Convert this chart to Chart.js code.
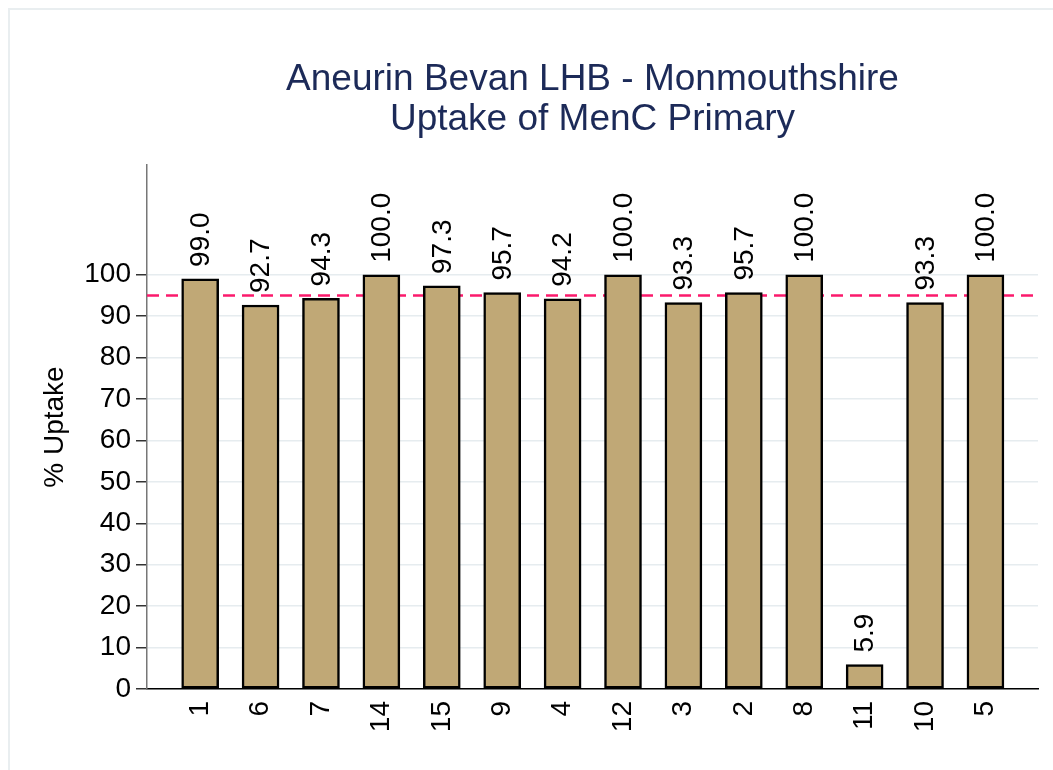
<!DOCTYPE html>
<html>
<head>
<meta charset="utf-8">
<script src="https://cdn.jsdelivr.net/npm/chart.js@4.4.1/dist/chart.umd.min.js"></script>
<style>
  html, body { margin: 0; padding: 0; background: #fff; overflow: hidden; }
  #wrap { position: relative; width: 1053px; height: 770px; }
  #frame { position: absolute; left: 8px; top: 8px; width: 1100px; height: 800px; border: 2px solid #e9eef0; }
  canvas { position: absolute; left: 0; top: 0; }
</style>
</head>
<body>
<div id="wrap">
  <div id="frame"></div>
  <canvas id="grafico" width="1053" height="770"></canvas>
</div>
<script>
// ---------------- DATA ----------------
const titleLines = ["Aneurin Bevan LHB - Monmouthshire", "Uptake of MenC Primary"];
const practices = ["1", "6", "7", "14", "15", "9", "4", "12", "3", "2", "8", "11", "10", "5"];
const uptake = [99.0, 92.7, 94.3, 100.0, 97.3, 95.7, 94.2, 100.0, 93.3, 95.7, 100.0, 5.9, 93.3, 100.0];
const yTicks = [0, 10, 20, 30, 40, 50, 60, 70, 80, 90, 100];
const target = 95;

const FONT = "'Liberation Sans', Arial, sans-serif";

// ---------------- PLUGINS ----------------
// dashed target line (behind the bars)
const targetLine = {
  id: "targetLine",
  beforeDatasetsDraw(chart) {
    const { ctx, chartArea, scales } = chart;
    const y = scales.y.getPixelForValue(target);
    ctx.save();
    ctx.strokeStyle = "#fb1a6c";
    ctx.lineWidth = 2.5;
    ctx.setLineDash([12, 7]);
    ctx.beginPath();
    ctx.moveTo(chartArea.left, y);
    ctx.lineTo(chartArea.right, y);
    ctx.stroke();
    ctx.restore();
  }
};

// vertical value labels above each bar
const valueLabels = {
  id: "valueLabels",
  afterDatasetsDraw(chart) {
    const { ctx } = chart;
    const meta = chart.getDatasetMeta(0);
    ctx.save();
    ctx.fillStyle = "#000";
    ctx.font = "28px " + FONT;
    ctx.textAlign = "left";
    ctx.textBaseline = "middle";
    meta.data.forEach((bar, i) => {
      ctx.save();
      ctx.translate(bar.x + 1, bar.y - 12);
      ctx.rotate(-Math.PI / 2);
      ctx.fillText(uptake[i].toFixed(1), 0, 0);
      ctx.restore();
    });
    ctx.restore();
  }
};

// two-line title centred over the plot area
const plotTitle = {
  id: "plotTitle",
  afterDraw(chart) {
    const { ctx, chartArea } = chart;
    const cx = (chartArea.left + chartArea.right) / 2;
    ctx.save();
    ctx.fillStyle = "#1c2a58";
    ctx.font = "37px " + FONT;
    ctx.textAlign = "center";
    ctx.textBaseline = "middle";
    titleLines.forEach((t, i) => ctx.fillText(t, cx, 80 + i * 40));
    ctx.restore();
  }
};

// ---------------- CHART ----------------
new Chart(
  document.getElementById("grafico"),
  {
    type: "bar",

    data: {
      datasets: [{
        label: "% Uptake",
        data: practices.map((p, i) => ({ x: i, y: uptake[i] })),
        backgroundColor: "#c0a876",
        borderColor: "#000",
        borderWidth: 2.5,
        borderSkipped: false,
        barThickness: 37
      }]
    },

    options: {
      responsive: false,
      animation: false,
      layout: {
        padding: { top: 165, right: 15, left: 0, bottom: 0 }
      },
      plugins: {
        legend: { display: false },
        tooltip: { enabled: false },
        title: { display: false }
      },
      scales: {
        x: {
          type: "linear",
          position: "bottom",
          offset: false,
          min: -0.88,
          max: 13.87,
          grid: { display: false, drawTicks: false },
          border: { display: true, color: "#000", width: 1.5 },
          afterBuildTicks: s => { s.ticks = practices.map((p, i) => ({ value: i })); },
          afterFit: s => { s.height = 81; },
          ticks: {
            autoSkip: false,
            minRotation: 90,
            maxRotation: 90,
            padding: 12,
            color: "#000",
            font: { family: FONT, size: 28 },
            callback: v => practices[v]
          }
        },
        y: {
          min: 0,
          max: 126.5,
          afterBuildTicks: s => { s.ticks = yTicks.map(v => ({ value: v })); },
          afterFit: s => { s.width = 147; },
          grid: {
            color: "#e6ecef",
            lineWidth: 1.5,
            tickColor: "#333",
            tickLength: 11
          },
          border: { display: true, color: "#777", width: 1.5 },
          ticks: {
            padding: 5,
            color: "#000",
            font: { family: FONT, size: 28 }
          },
          title: {
            display: true,
            text: "% Uptake",
            color: "#000",
            font: { family: FONT, size: 28 },
            padding: { top: 38, bottom: 0 }
          }
        }
      }
    },

    plugins: [targetLine, valueLabels, plotTitle]
  }
);
</script>
</body>
</html>
